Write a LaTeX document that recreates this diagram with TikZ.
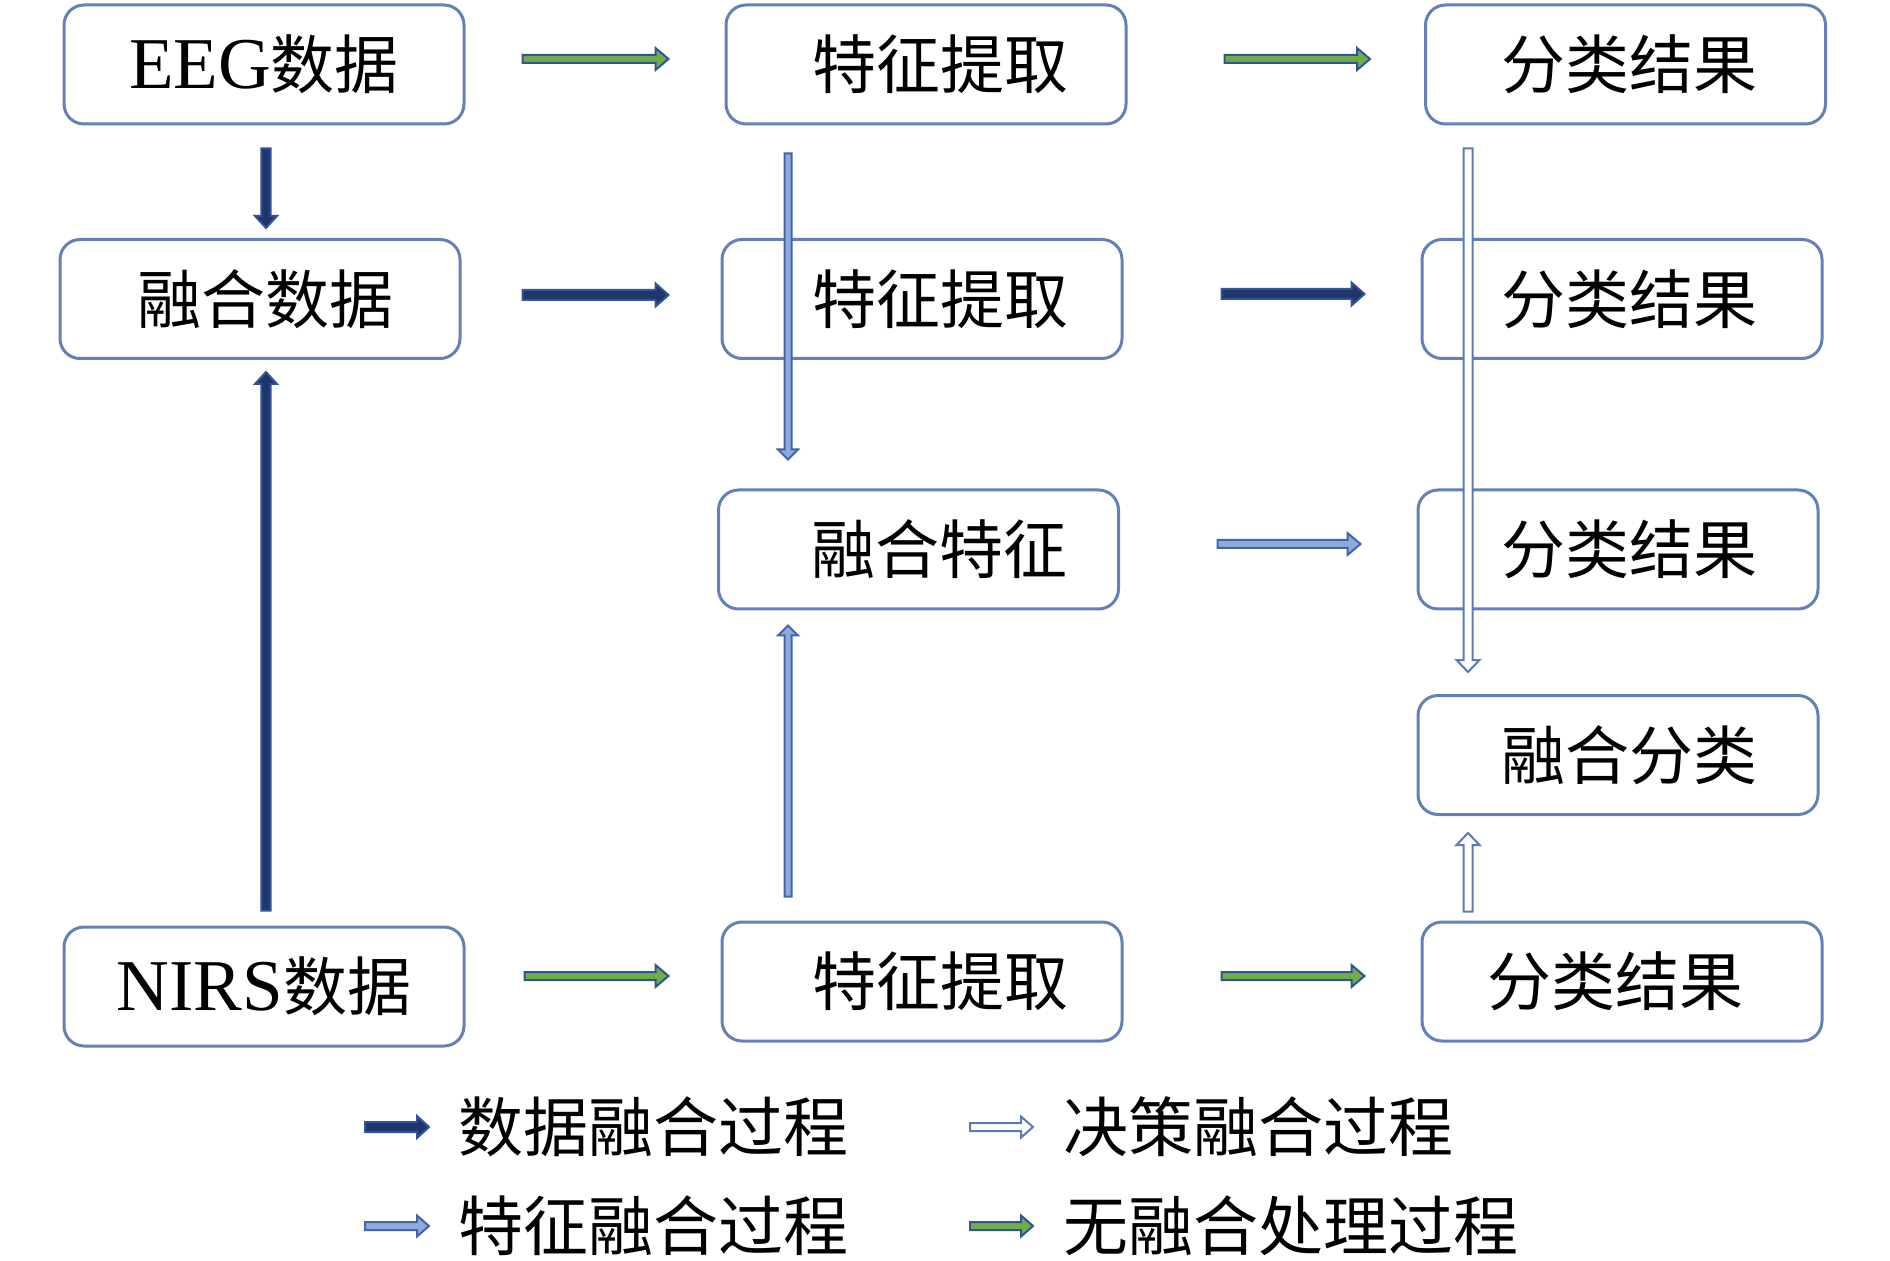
\documentclass[tikz,border=0pt]{standalone}
\usepackage{fontspec}
\setmainfont{Liberation Serif}
\newfontfamily\cjk{Noto Sans CJK SC}
\usetikzlibrary{calc}
\definecolor{boxc}{RGB}{100,128,182}
\definecolor{navyfill}{RGB}{30,54,108}
\definecolor{navyline}{RGB}{50,84,150}
\definecolor{lightfill}{RGB}{143,170,220}
\definecolor{lightline}{RGB}{66,100,168}
\definecolor{greenfill}{RGB}{112,173,71}
\definecolor{greenline}{RGB}{47,85,151}
\definecolor{hollowline}{RGB}{90,122,185}
\newcommand\sh[1]{\hspace*{#1pt}}
\newcommand\lat[1]{{\fontsize{36.5}{40}\selectfont #1}}
% block arrow: style, start, end, shaft half width, head half width, head length
\newcommand\blkarrow[6]{%
  \coordinate (bkH) at ($(#3)!#6!(#2)$);
  \draw[#1] ($(#2)!#4!90:(#3)$) -- ($(bkH)!#4!90:(#3)$) -- ($(bkH)!#5!90:(#3)$) -- (#3)
    -- ($(bkH)!#5!-90:(#3)$) -- ($(bkH)!#4!-90:(#3)$) -- ($(#2)!#4!-90:(#3)$) -- cycle;}
\tikzset{
  box/.style={draw=boxc, line width=1.5pt, rounded corners=10pt, minimum width=200pt,
    minimum height=59.5pt, inner sep=0pt, fill=white, font=\fontsize{32}{36}\selectfont},
  legtext/.style={anchor=west, inner sep=0pt, font=\fontsize{32.5}{36}\selectfont\cjk},
  arrdata/.style={fill=navyfill, draw=navyline, line width=1pt},
  arrfeat/.style={fill=lightfill, draw=lightline, line width=1pt},
  arrdec/.style={fill=white, draw=hollowline, line width=1pt},
  arrnone/.style={fill=greenfill, draw=greenline, line width=1pt}
}
\begin{document}
\begin{tikzpicture}[x=0.5pt,y=-0.5pt]
\useasboundingbox (0,0) rectangle (1890,1261);
% boxes
\node[box] (eeg) at (264,64.5) {\lat{EEG}{\cjk 数据}};
\node[box] (fe1) at (926,64.5) {\sh{14}\cjk 特征提取};
\node[box] (cr1) at (1625.5,64.5) {\sh{4}\cjk 分类结果};
\node[box] (fd) at (260,299) {\sh{5}\cjk 融合数据};
\node[box] (fe2) at (922,299) {\sh{18}\cjk 特征提取};
\node[box] (cr2) at (1622,299) {\sh{7}\cjk 分类结果};
\node[box] (ff) at (918.5,549.5) {\sh{21}\cjk 融合特征};
\node[box] (cr3) at (1618,549.5) {\sh{11}\cjk 分类结果};
\node[box] (fc) at (1618,755) {\sh{11}\cjk 融合分类};
\node[box] (nirs) at (264,986.5) {\lat{NIRS}{\cjk 数据}};
\node[box] (fe4) at (922,981.5) {\sh{18}\cjk 特征提取};
\node[box] (cr4) at (1622,981.5) {\sh{-7}\cjk 分类结果};
% arrow end points
\coordinate (a1s) at ($(eeg.east)+(57,-5.5)$);
\coordinate (a1e) at ($(fe1.west)+(-56,-5.5)$);
\coordinate (a2s) at ($(fe1.east)+(97,-5.5)$);
\coordinate (a2e) at ($(cr1.west)+(-54,-5.5)$);
\coordinate (a3s) at ($(fd.east)+(61,-4)$);
\coordinate (a3e) at ($(fe2.west)+(-52,-4)$);
\coordinate (a4s) at ($(fe2.east)+(98,-5)$);
\coordinate (a4e) at ($(cr2.west)+(-56,-5)$);
\coordinate (a5s) at ($(ff.east)+(97.5,-5.5)$);
\coordinate (a5e) at ($(cr3.west)+(-56,-5.5)$);
\coordinate (a6s) at ($(nirs.east)+(59,-10.5)$);
\coordinate (a6e) at ($(fe4.west)+(-52,-5.5)$);
\coordinate (a7s) at ($(fe4.east)+(98,-5.5)$);
\coordinate (a7e) at ($(cr4.west)+(-56,-5.5)$);
\coordinate (v1s) at ($(eeg.south)+(2,23)$);
\coordinate (v1e) at ($(fd.north)+(6,-10)$);
\coordinate (v2s) at ($(nirs.north)+(2,-15)$);
\coordinate (v2e) at ($(fd.south)+(6,12)$);
\coordinate (v3s) at ($(fe1.south)+(-138,28)$);
\coordinate (v3e) at ($(ff.north)+(-130.5,-29)$);
\coordinate (v4s) at ($(fe4.north)+(-134,-24)$);
\coordinate (v4e) at ($(ff.south)+(-130.5,15)$);
\coordinate (v5s) at ($(cr1.south)+(-157.5,23)$);
\coordinate (v5e) at ($(fc.north)+(-150,-22)$);
\coordinate (v6s) at ($(cr4.north)+(-154,-9)$);
\coordinate (v6e) at ($(fc.south)+(-150,17)$);
% horizontal arrows
\blkarrow{arrnone}{a1s}{a1e}{2pt}{5.5pt}{6.5pt}
\blkarrow{arrnone}{a2s}{a2e}{2pt}{5.5pt}{6.5pt}
\blkarrow{arrdata}{a3s}{a3e}{2.5pt}{5.75pt}{6.5pt}
\blkarrow{arrdata}{a4s}{a4e}{2.5pt}{5.75pt}{6.5pt}
\blkarrow{arrfeat}{a5s}{a5e}{2pt}{5.5pt}{6.5pt}
\blkarrow{arrnone}{a6s}{a6e}{2pt}{5.5pt}{6.5pt}
\blkarrow{arrnone}{a7s}{a7e}{2pt}{5.5pt}{6.5pt}
% vertical arrows
\blkarrow{arrdata}{v1s}{v1e}{2.3pt}{5.5pt}{6pt}
\blkarrow{arrdata}{v2s}{v2e}{2.3pt}{5.5pt}{6pt}
\blkarrow{arrfeat}{v3s}{v3e}{1.75pt}{5pt}{5pt}
\blkarrow{arrfeat}{v4s}{v4e}{1.75pt}{5pt}{5pt}
\blkarrow{arrdec}{v5s}{v5e}{2.25pt}{5.75pt}{6pt}
\blkarrow{arrdec}{v6s}{v6e}{2.25pt}{5.75pt}{6pt}
% legend
\node[legtext] (l1) at (458,1127) {数据融合过程};
\node[legtext] (l2) at (1063,1127) {决策融合过程};
\node[legtext] (l3) at (458,1226) {特征融合过程};
\node[legtext] (l4) at (1063,1226) {无融合处理过程};
\coordinate (k1s) at (365,1127); \coordinate (k1e) at (429,1127);
\coordinate (k2s) at (970,1127); \coordinate (k2e) at (1033,1127);
\coordinate (k3s) at (365,1226); \coordinate (k3e) at (429,1226);
\coordinate (k4s) at (970,1226); \coordinate (k4e) at (1033,1226);
\blkarrow{arrdata}{k1s}{k1e}{2.5pt}{5.5pt}{6pt}
\blkarrow{arrdec}{k2s}{k2e}{2pt}{5.25pt}{6pt}
\blkarrow{arrfeat}{k3s}{k3e}{2pt}{5.25pt}{6pt}
\blkarrow{arrnone}{k4s}{k4e}{2pt}{5.25pt}{6pt}
\end{tikzpicture}
\end{document}
